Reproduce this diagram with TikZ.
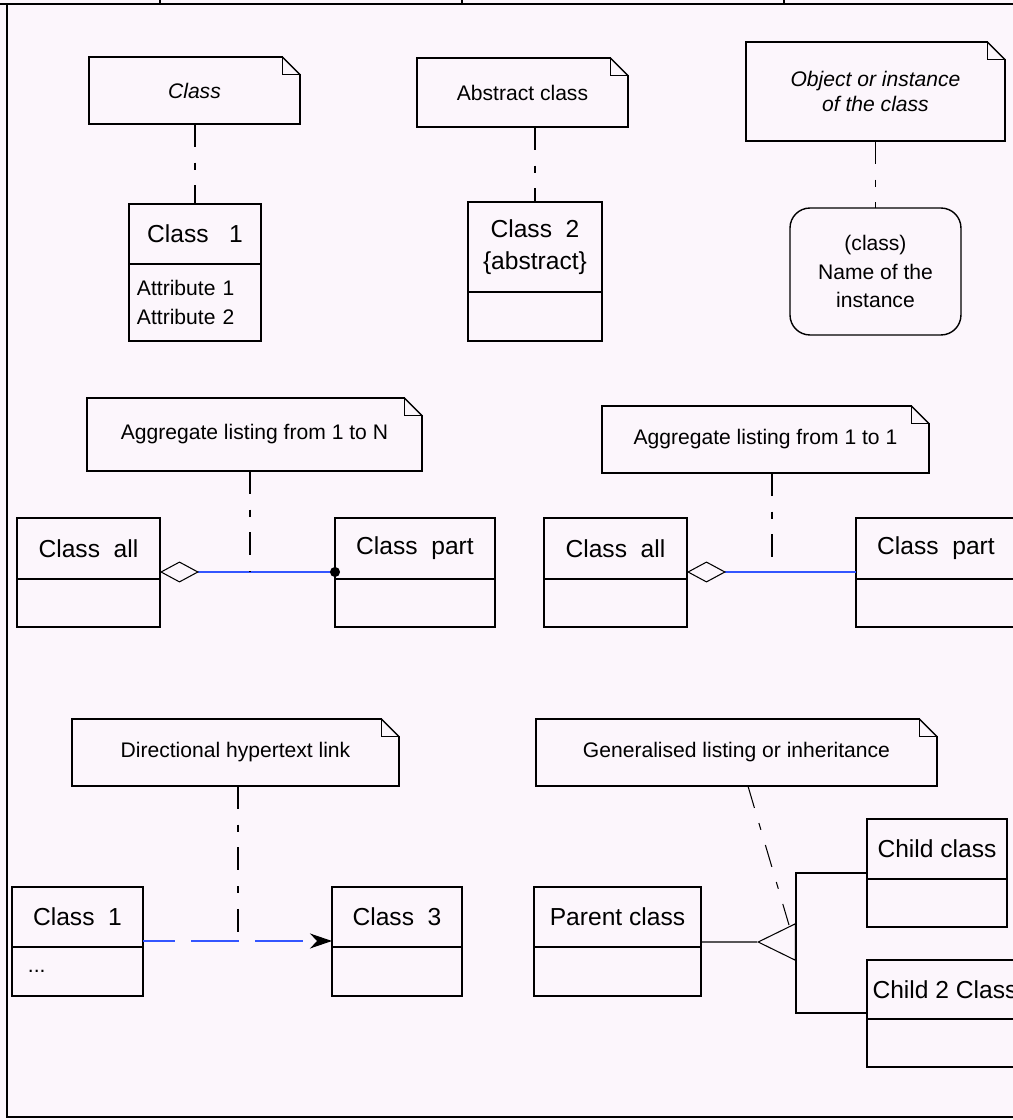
\documentclass[tikz,border=0pt]{standalone}
\usepackage{fontspec}
\setmainfont{Liberation Sans}
\usetikzlibrary{positioning,arrows.meta}
\definecolor{bgpink}{RGB}{252,246,252}
\definecolor{linkblue}{RGB}{51,85,255}
\tikzset{
  aggtip/.tip={Diamond[open,color=black,length=0.78cm,width=0.42cm,line width=0.6pt]},
  dottip/.tip={Circle[color=black,length=0.2cm]},
  gentip/.tip={Triangle[open,length=0.78cm,width=0.76cm,line width=0.6pt]},
  linktip/.tip={Stealth[color=black,length=0.44cm,width=0.3cm,inset=0.14cm]}
}
\begin{document}
\begin{tikzpicture}
    [x=0.02cm,y=-0.02cm,
     every node/.style={outer sep=0pt,inner sep=0pt},
     cls/.style={draw,line width=0.8pt,anchor=north west,align=center,
       font=\fontsize{14}{18}\selectfont},
     body/.style={draw,line width=0.8pt,align=left,font=\fontsize{12}{16}\selectfont},
     inst/.style={draw,line width=0.8pt,rounded corners=0.4cm,anchor=north west,
       align=center,font=\fontsize{12}{16}\selectfont},
     noteline/.style={draw,line width=0.8pt,line cap=rect},
     note/.style={rectangle,anchor=north west,align=center,
       font=\fontsize{12}{14}\selectfont,
       append after command={
         (\tikzlastnode.north west) edge[noteline] ([xshift=-0.35cm]\tikzlastnode.north east)
         ([xshift=-0.35cm]\tikzlastnode.north east) edge[noteline] ([yshift=-0.35cm]\tikzlastnode.north east)
         ([yshift=-0.35cm]\tikzlastnode.north east) edge[noteline] (\tikzlastnode.south east)
         (\tikzlastnode.south east) edge[noteline] (\tikzlastnode.south west)
         (\tikzlastnode.south west) edge[noteline] (\tikzlastnode.north west)
         ([xshift=-0.35cm]\tikzlastnode.north east)
           edge[noteline,to path={|- (\tikztotarget)}] ([yshift=-0.35cm]\tikzlastnode.north east)}},
     notelink/.style={line width=0.6pt,dash pattern=on 13pt off 9pt on 4pt off 9pt},
     aggr/.style={linkblue,line width=0.7pt},
     hyper/.style={linkblue,line width=0.7pt,dash pattern=on 27pt off 9.5pt,dash phase=9pt},
     gen/.style={line width=0.7pt}]
    \useasboundingbox (0,0) rectangle (1013,1120);
    \clip (0,0) rectangle (1013,1120);
    \fill[bgpink] (0,0) rectangle (1013,1120);
    \draw[line width=1.7pt] (0,4) -- (1013,4);
    \draw[line width=1.1pt] (7,4) -- (7,1117) -- (1013,1117);
    \foreach \tx in {160,462,784}
      \draw[line width=0.6pt] (\tx,0) -- (\tx,4);

    \node[note,minimum width=4.22cm,minimum height=1.34cm,
      font=\itshape\fontsize{12}{14}\selectfont] (nclass) at (89,57) {Class};
    \node[cls,minimum width=2.64cm,minimum height=1.2cm] (cone) at (129,204) {Class\ \ \ 1};
    \node[body,below=0pt of cone,minimum width=2.64cm,minimum height=1.54cm,
      text width=2.32cm,inner xsep=0.16cm] (coneb) {Attribute 1\\Attribute 2};
    \draw[notelink] (cone.north |- nclass.south) -- (cone.north);

    \node[note,minimum width=4.22cm,minimum height=1.38cm] (nabs) at (417,58) {Abstract class};
    \node[cls,minimum width=2.68cm,minimum height=1.8cm] (ctwo) at (468,202) {Class\ \ 2\\\{abstract\}};
    \node[body,below=0pt of ctwo,minimum width=2.68cm,minimum height=0.98cm] (ctwob) {};
    \draw[notelink] (ctwo.north |- nabs.south) -- (ctwo.north);

    \node[note,minimum width=5.18cm,minimum height=1.98cm,
      font=\itshape\fontsize{12}{14}\selectfont] (nobj) at (746,42) {Object or instance\\of the class};
    \node[inst,minimum width=3.42cm,minimum height=2.54cm] (obj) at (790,208)
      {(class)\\Name of the\\instance};
    \draw[notelink] (obj.north |- nobj.south) -- (obj.north);

    \node[note,minimum width=6.7cm,minimum height=1.46cm] (nmany) at (87,398)
      {Aggregate listing from 1 to N};
    \node[cls,minimum width=2.86cm,minimum height=1.22cm] (allone) at (17,518) {Class\ \ all};
    \node[body,below=0pt of allone,minimum width=2.86cm,minimum height=0.96cm] (alloneb) {};
    \node[cls,minimum width=3.2cm,minimum height=1.22cm] (partone) at (335,518) {Class\ \ part};
    \node[body,below=0pt of partone,minimum width=3.2cm,minimum height=0.96cm] (partoneb) {};
    \draw[aggr,{aggtip}-{dottip},shorten >=-0.1cm]
      ([yshift=0.14cm]allone.south east) -- ([yshift=0.14cm]partone.south west);
    \coordinate (mmany) at (250,572);
    \draw[notelink] (mmany |- nmany.south) -- (mmany);

    \node[note,minimum width=6.54cm,minimum height=1.34cm] (nsingle) at (602,406)
      {Aggregate listing from 1 to 1};
    \node[cls,minimum width=2.86cm,minimum height=1.22cm] (alltwo) at (544,518) {Class\ \ all};
    \node[body,below=0pt of alltwo,minimum width=2.86cm,minimum height=0.96cm] (alltwob) {};
    \node[cls,minimum width=3.2cm,minimum height=1.22cm] (parttwo) at (856,518) {Class\ \ part};
    \node[body,below=0pt of parttwo,minimum width=3.2cm,minimum height=0.96cm] (parttwob) {};
    \draw[aggr,{aggtip}-]
      ([yshift=0.14cm]alltwo.south east) -- ([yshift=0.14cm]parttwo.south west);
    \coordinate (msingle) at (772,572);
    \draw[notelink] (msingle |- nsingle.south) -- (msingle);

    \node[note,minimum width=6.54cm,minimum height=1.34cm] (nlink) at (72,719)
      {Directional hypertext link};
    \node[cls,minimum width=2.62cm,minimum height=1.2cm] (clink) at (12,887) {Class\ \ 1};
    \node[body,below=0pt of clink,minimum width=2.62cm,minimum height=0.98cm,
      text width=1.98cm,inner xsep=0.32cm] (clinkb) {...};
    \node[cls,minimum width=2.6cm,minimum height=1.2cm] (cthree) at (332,887) {Class\ \ 3};
    \node[body,below=0pt of cthree,minimum width=2.6cm,minimum height=0.98cm] (cthreeb) {};
    \draw[hyper,-{linktip}]
      ([yshift=0.12cm]clink.south east) -- ([yshift=0.12cm]cthree.south west);
    \coordinate (mlink) at (238,941);
    \draw[notelink] (mlink |- nlink.south) -- (mlink);

    \node[note,minimum width=8.02cm,minimum height=1.34cm] (ngen) at (536,719)
      {Generalised listing or inheritance};
    \node[cls,minimum width=3.34cm,minimum height=1.2cm] (par) at (534,887) {Parent class};
    \node[body,below=0pt of par,minimum width=3.34cm,minimum height=0.98cm] (parb) {};
    \node[cls,minimum width=2.8cm,minimum height=1.2cm] (chone) at (867,819) {Child class};
    \node[body,below=0pt of chone,minimum width=2.8cm,minimum height=0.96cm] (choneb) {};
    \node[cls,minimum width=3.12cm,minimum height=1.18cm] (chtwo) at (867,960) {Child 2 Class};
    \node[body,below=0pt of chtwo,minimum width=3.12cm,minimum height=0.96cm] (chtwob) {};
    \coordinate (gtip) at (757,942);
    \coordinate (gbase) at (796,942);
    \draw[gen,-{gentip}] (gbase) -- (gtip);
    \draw[gen] (gtip) -- ([yshift=0.1cm]par.south east);
    \draw[gen] ([yshift=0.12cm]chone.south west) -| (gbase) |- ([yshift=0.12cm]chtwo.south west);
    \coordinate (mgen) at (789,925);
    \draw[notelink] ([xshift=0.23cm]ngen.south) -- (mgen);
\end{tikzpicture}
\end{document}
